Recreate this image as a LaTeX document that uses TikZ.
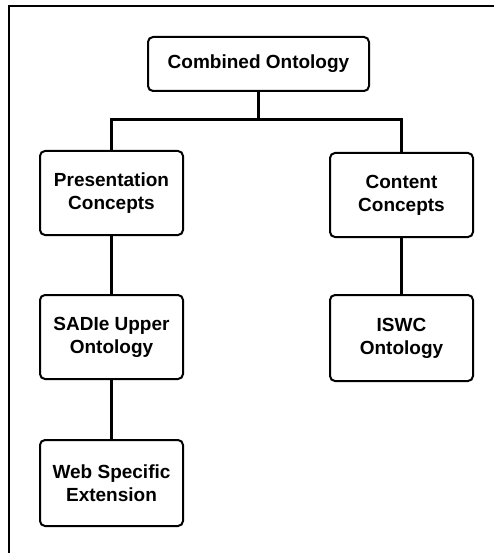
\documentclass[tikz,border=0pt]{standalone}
\usepackage{fontspec}
\setmainfont{Liberation Sans}
\begin{document}
\begin{tikzpicture}[x=1pt,y=-1pt,
  concept/.style={draw=black, line width=2pt, rounded corners=5pt, fill=white,
    align=center, inner sep=0pt, font=\fontsize{19}{23}\selectfont\bfseries},
  link/.style={line width=3pt, line cap=rect}]
  \useasboundingbox (0,0) rectangle (494,553);
  % outer frame (open to the right and bottom)
  \draw[line width=1.6pt] (9,553) -- (9,6) -- (494,6);
  % concept boxes
  \node[concept, minimum width=221pt, minimum height=54pt] (top) at (258.5,64) {Combined Ontology};
  \node[concept, minimum width=143pt, minimum height=84pt] (pres) at (111.5,193) {Presentation\\Concepts};
  \node[concept, minimum width=143pt, minimum height=84pt] (cont) at (401.5,195) {Content\\Concepts};
  \node[concept, minimum width=143pt, minimum height=84pt] (sadie) at (111.5,337) {SADIe Upper\\Ontology};
  \node[concept, minimum width=143pt, minimum height=86pt] (iswc) at (401.5,338) {ISWC\\Ontology};
  \node[concept, minimum width=143pt, minimum height=86pt] (web) at (111.5,483) {Web Specific\\Extension};
  % tree connectors
  \coordinate (bus) at (top.south |- 0,120);
  \draw[link] (top.south) -- (bus);
  \draw[link] (bus) -| (pres.north);
  \draw[link] (bus) -| (cont.north);
  \draw[link] (pres.south) -- (sadie.north);
  \draw[link] (cont.south) -- (iswc.north);
  \draw[link] (sadie.south) -- (web.north);
\end{tikzpicture}
\end{document}
